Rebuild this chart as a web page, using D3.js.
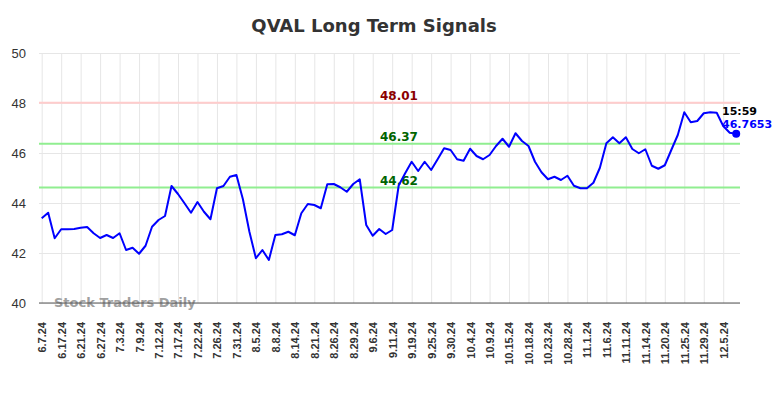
<!DOCTYPE html>
<html>
<head>
<meta charset="utf-8">
<script src="https://cdn.jsdelivr.net/npm/d3@7"></script>
<style>
  body { margin: 0; background: #fff; }
  svg { display: block; font-family: "DejaVu Sans", sans-serif; }
</style>
</head>
<body>
<div id="chart"></div>
<script>
// QVAL closing values, one per trading session
let values = [
  43.39, 43.61, 42.59, 42.95, 42.95, 42.96, 43.01, 43.04, 42.79, 42.60,
  42.72, 42.60, 42.79, 42.12, 42.21, 41.97, 42.29, 43.05, 43.32, 43.48,
  44.68, 44.36, 43.99, 43.61, 44.04, 43.65, 43.35, 44.59, 44.68, 45.05,
  45.12, 44.15, 42.85, 41.79, 42.12, 41.72, 42.72, 42.75, 42.85, 42.71,
  43.59, 43.96, 43.92, 43.79, 44.75, 44.76, 44.63, 44.45, 44.76, 44.95,
  43.12, 42.69, 42.96, 42.76, 42.92, 44.70, 45.19, 45.65, 45.28, 45.65,
  45.32, 45.75, 46.19, 46.12, 45.75, 45.69, 46.17, 45.88, 45.75, 45.92,
  46.28, 46.57, 46.25, 46.79, 46.48, 46.28, 45.65, 45.23, 44.95, 45.05,
  44.92, 45.09, 44.69, 44.59, 44.59, 44.81, 45.41, 46.39, 46.63, 46.39,
  46.63, 46.16, 45.99, 46.15, 45.49, 45.37, 45.51, 46.12, 46.72, 47.63,
  47.23, 47.28, 47.59, 47.63, 47.61, 47.08, 46.81, 46.7653
];

// a date label sits on every third session
let tickLabels = [
  '6.7.24', '6.17.24', '6.21.24', '6.27.24', '7.3.24', '7.9.24', '7.12.24',
  '7.17.24', '7.22.24', '7.26.24', '7.31.24', '8.5.24', '8.8.24', '8.14.24',
  '8.21.24', '8.26.24', '8.29.24', '9.6.24', '9.11.24', '9.19.24', '9.25.24',
  '9.30.24', '10.4.24', '10.9.24', '10.15.24', '10.18.24', '10.23.24',
  '10.28.24', '11.1.24', '11.6.24', '11.11.24', '11.14.24', '11.20.24',
  '11.25.24', '11.29.24', '12.5.24'
];
let tickEvery = 3;

let yTicks = [40, 42, 44, 46, 48, 50];

let levels = [
  {value: 48.01, line: '#ffcccc', text: '#8b0000'},
  {value: 46.37, line: '#90ee90', text: '#006400'},
  {value: 44.62, line: '#90ee90', text: '#006400'}
];

let lastTime = '15:59';

let buildChart = function() {
  let width = 784, height = 398;
  let plot = {left: 39, right: 740, top: 53, bottom: 303};

  let svg = d3.select('#chart').append('svg')
    .attr('width', width)
    .attr('height', height);

  let x = d3.scaleLinear()
    .domain([0, values.length - 1])
    .range([41.7, 736.2]);
  let y = d3.scaleLinear()
    .domain([40, 50])
    .range([plot.bottom, plot.top]);

  // title
  svg.append('text')
    .attr('x', 374)
    .attr('y', 32)
    .attr('text-anchor', 'middle')
    .style('font-size', '18px')
    .style('font-weight', 'bold')
    .style('fill', '#333')
    .text('QVAL Long Term Signals');

  // vertical grid + rotated date labels
  let tickIdx = tickLabels.map((d, i) => i * tickEvery);
  let xAxis = svg.append('g')
    .attr('transform', `translate(0, ${plot.bottom})`)
    .call(d3.axisBottom(x)
      .tickValues(tickIdx)
      .tickSize(-(plot.bottom - plot.top))
      .tickFormat(i => tickLabels[i / tickEvery]));
  xAxis.select('.domain').remove();
  xAxis.selectAll('line').attr('stroke', '#e6e6e6');
  xAxis.selectAll('text')
    .attr('transform', 'rotate(-90)')
    .attr('x', -19)
    .attr('y', 0)
    .attr('dy', '0.36em')
    .attr('text-anchor', 'end')
    .style('font-size', '11px')
    .style('font-weight', 'bold')
    .style('fill', '#333');

  // horizontal grid + value labels
  let yAxis = svg.append('g')
    .attr('transform', `translate(${plot.left}, 0)`)
    .call(d3.axisLeft(y)
      .tickValues(yTicks)
      .tickSize(-(plot.right - plot.left))
      .tickPadding(13));
  yAxis.select('.domain').remove();
  yAxis.selectAll('line').attr('stroke', '#e6e6e6');
  yAxis.selectAll('text')
    .style('font-size', '13px')
    .style('fill', '#333');

  // watermark
  svg.append('text')
    .attr('x', 54)
    .attr('y', 307)
    .style('font-size', '13px')
    .style('font-weight', 'bold')
    .style('fill', '#a0a0a0')
    .text('Stock Traders Daily');

  // bottom axis line
  svg.append('line')
    .attr('x1', plot.left).attr('x2', plot.right)
    .attr('y1', plot.bottom).attr('y2', plot.bottom)
    .attr('stroke', '#555')
    .attr('stroke-width', 1);

  // signal levels
  levels.forEach(function(lv) {
    svg.append('line')
      .attr('x1', plot.left).attr('x2', plot.right)
      .attr('y1', y(lv.value)).attr('y2', y(lv.value))
      .attr('stroke', lv.line)
      .attr('stroke-width', 2);
    svg.append('text')
      .attr('x', 380)
      .attr('y', y(lv.value) - 3)
      .style('font-size', '12px')
      .style('font-weight', 'bold')
      .style('fill', lv.text)
      .text(lv.value.toFixed(2));
  });

  // price line
  let line = d3.line()
    .x((d, i) => x(i))
    .y(d => y(d));
  svg.append('path')
    .datum(values)
    .attr('d', line)
    .attr('fill', 'none')
    .attr('stroke', '#0000ff')
    .attr('stroke-width', 2)
    .attr('stroke-linejoin', 'round');

  // last point marker
  let lastI = values.length - 1;
  let last = values[lastI];
  svg.append('circle')
    .attr('cx', x(lastI))
    .attr('cy', y(last))
    .attr('r', 4)
    .attr('fill', '#0000ff');
  svg.append('text')
    .attr('x', 722)
    .attr('y', 115)
    .style('font-size', '11px')
    .style('font-weight', 'bold')
    .style('fill', '#000')
    .text(lastTime);
  svg.append('text')
    .attr('x', 722)
    .attr('y', 128)
    .style('font-size', '11px')
    .style('font-weight', 'bold')
    .style('fill', '#0000ff')
    .text(last.toFixed(4));
};

buildChart();
</script>
</body>
</html>
